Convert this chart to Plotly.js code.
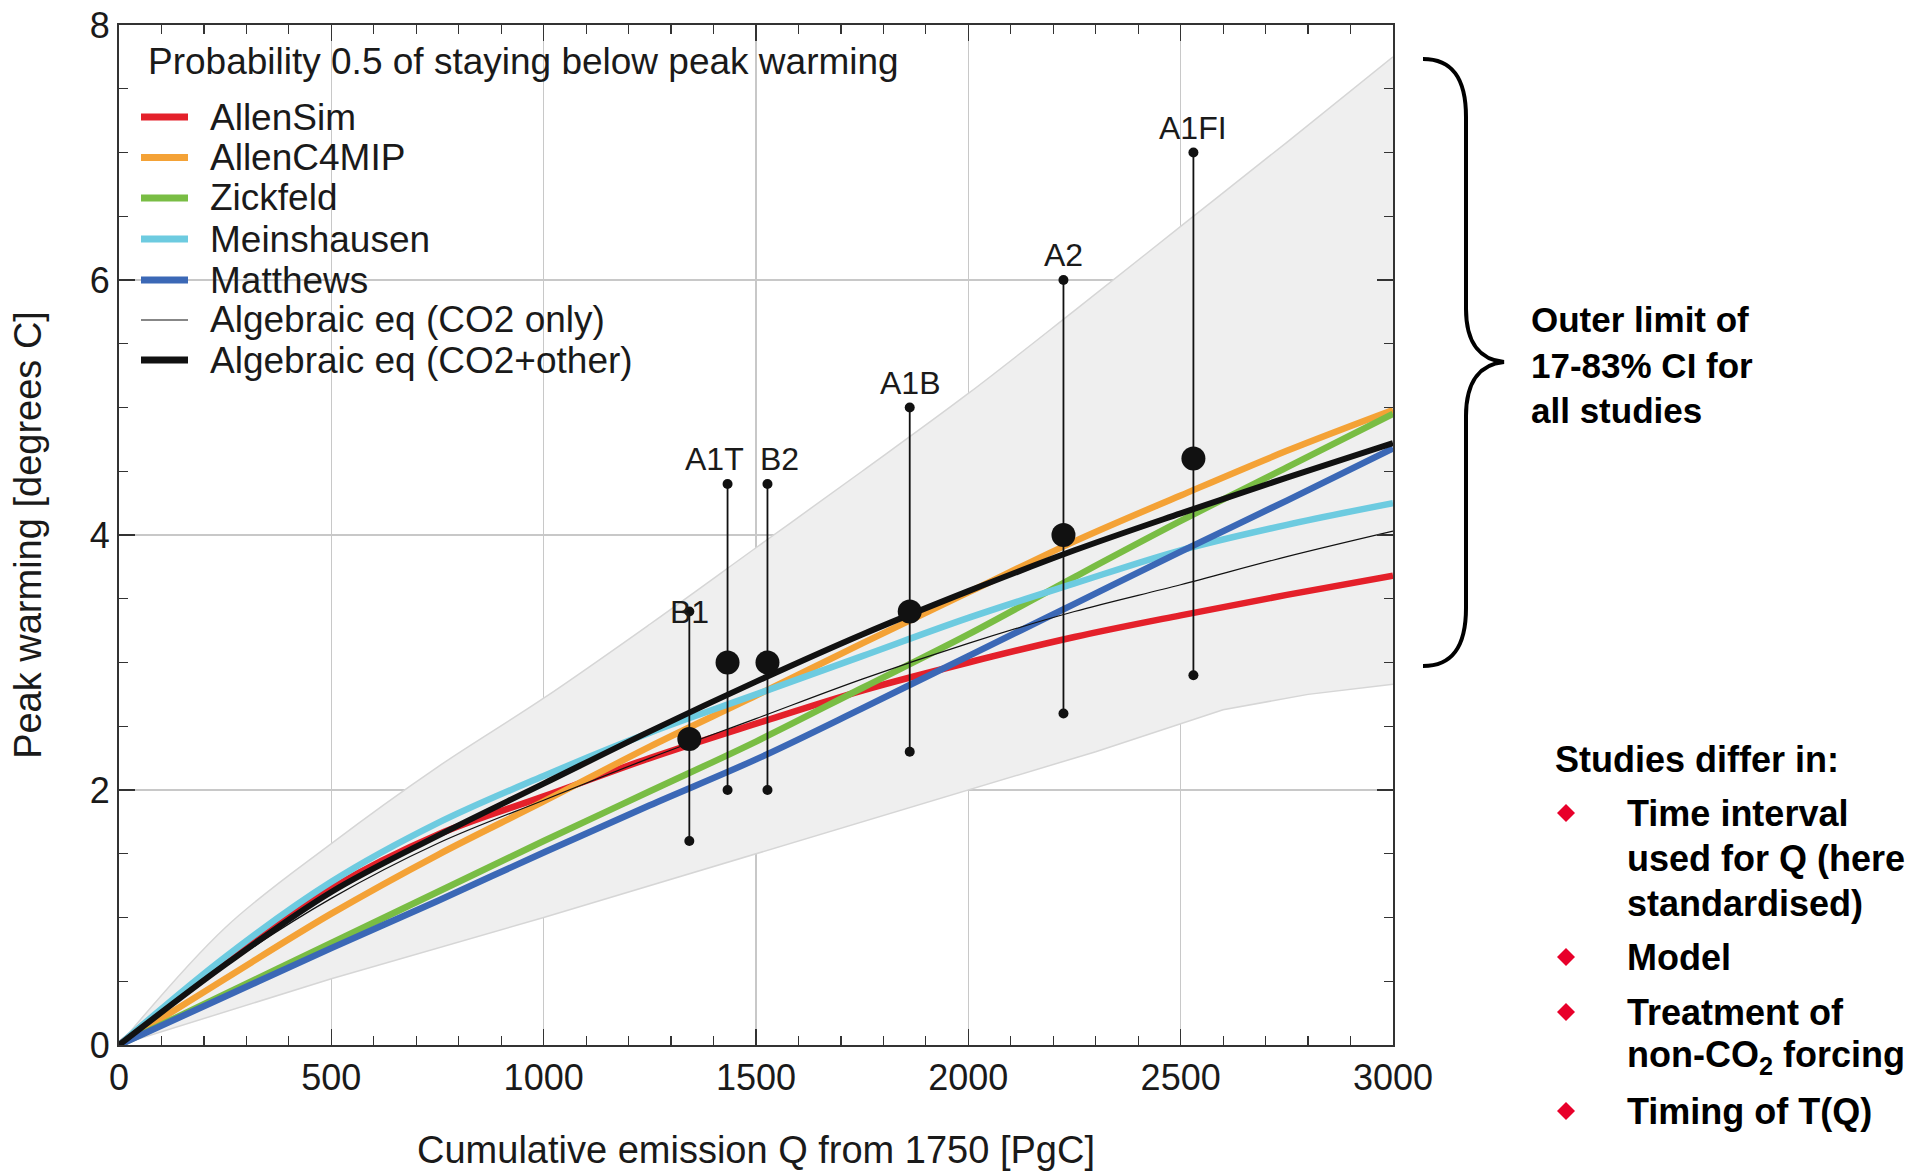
<!DOCTYPE html>
<html>
<head>
<meta charset="utf-8">
<script src="https://cdn.plot.ly/plotly-3.0.1.min.js"></script>
<style>
html,body{margin:0;padding:0;background:#fff;}
#chart{width:1923px;height:1171px;}
</style>
</head>
<body>
<div id="chart"></div>
<script>
// ---------------- DATA ----------------
const emission = [0, 250, 500, 750, 1000, 1250, 1500, 1750, 2000, 2250, 2500, 2750, 3000];
const allenSim    = [0, 0.66, 1.23, 1.65, 1.95, 2.25, 2.52, 2.78, 3.00, 3.20, 3.37, 3.53, 3.68];
const allenC4MIP  = [0, 0.52, 1.03, 1.49, 1.91, 2.34, 2.74, 3.15, 3.55, 3.95, 4.31, 4.66, 4.98];
const zickfeld    = [0, 0.40, 0.80, 1.20, 1.60, 1.99, 2.38, 2.80, 3.22, 3.67, 4.11, 4.53, 4.95];
const matthews    = [0, 0.38, 0.76, 1.13, 1.51, 1.88, 2.24, 2.64, 3.05, 3.46, 3.87, 4.27, 4.68];
const meinshausen = [0, 0.69, 1.28, 1.74, 2.11, 2.45, 2.75, 3.05, 3.35, 3.62, 3.88, 4.08, 4.25];
const algCO2Only  = [0, 0.62, 1.15, 1.58, 1.92, 2.25, 2.56, 2.87, 3.15, 3.40, 3.61, 3.83, 4.03];
const algCO2Other = [0, 0.63, 1.20, 1.64, 2.05, 2.46, 2.85, 3.22, 3.56, 3.88, 4.17, 4.45, 4.72];

// outer limit of 17-83% CI for all studies
const ciUpperQ = [0, 250, 500, 750, 1000, 1250, 1500, 1750, 2000, 2250, 2500, 2750, 3000];
const ciUpper  = [0, 0.92, 1.58, 2.18, 2.72, 3.30, 3.90, 4.50, 5.11, 5.76, 6.42, 7.08, 7.75];
const ciLowerQ = [0, 500, 1000, 1500, 2000, 2300, 2600, 2800, 3000];
const ciLower  = [0, 0.52, 1.00, 1.50, 2.00, 2.30, 2.63, 2.75, 2.83];

// SRES scenarios
const scenNames = ["B1", "A1T", "B2", "A1B", "A2", "A1FI"];
const scenQ     = [1343, 1433, 1527, 1862, 2224, 2530];
const scenMid   = [2.4, 3.0, 3.0, 3.4, 4.0, 4.6];
const scenLow   = [1.6, 2.0, 2.0, 2.3, 2.6, 2.9];
const scenHigh  = [3.4, 4.4, 4.4, 5.0, 6.0, 7.0];

const seriesNames = ["AllenSim", "AllenC4MIP", "Zickfeld", "Meinshausen", "Matthews",
                     "Algebraic eq (CO2 only)", "Algebraic eq (CO2+other)"];
const legendTitle = "Probability 0.5 of staying below peak warming";
const xTickVals = [0, 500, 1000, 1500, 2000, 2500, 3000];
const yTickVals = [0, 2, 4, 6, 8];
const xTitle = "Cumulative emission Q from 1750 [PgC]";
const yTitle = "Peak warming [degrees C]";
const braceText = "Outer limit of<br>17-83% CI for<br>all studies";
const differHeader = "Studies differ in:";
const differItems = [
  ["Time interval", "used for Q (here", "standardised)"],
  ["Model"],
  ["Treatment of", "non-CO<sub>2</sub> forcing"],
  ["Timing of T(Q)"]
];

// ---------------- STYLE ----------------
const FONT = "Liberation Sans, Arial, Helvetica, sans-serif";
const TXT = "#1a1a1a";
const seriesData = [allenSim, allenC4MIP, zickfeld, meinshausen, matthews, algCO2Only, algCO2Other];
const seriesColors = ["#e4202a", "#f4a236", "#79bd44", "#6dcbe0", "#3b68b6", "#111111", "#111111"];
const seriesWidths = [6.5, 6.5, 6.5, 6.5, 6.5, 1.2, 6];

// plot area in pixels
const P = {L: 119, T: 25, W: 1274, H: 1020};
const pxX = X => (X - P.L) / P.W;
const pxY = Y => (P.T + P.H - Y) / P.H;

// ---------------- TRACES ----------------
const traces = [];
traces.push({
  type: "scatter", mode: "lines", x: ciLowerQ, y: ciLower,
  line: {color: "#d6d6d6", width: 1.5},
  showlegend: false, hoverinfo: "skip"
});
traces.push({
  type: "scatter", mode: "lines", x: ciUpperQ, y: ciUpper,
  fill: "tonexty", fillcolor: "#efefef",
  line: {color: "#d6d6d6", width: 1.5, shape: "spline", smoothing: 1},
  showlegend: false, hoverinfo: "skip"
});
seriesNames.forEach((nm, i) => {
  traces.push({
    type: "scatter", mode: "lines", name: nm,
    x: emission, y: seriesData[i],
    line: {color: seriesColors[i], width: seriesWidths[i], shape: "spline", smoothing: 1},
    showlegend: false
  });
});
// whiskers
const wx = [], wy = [];
scenQ.forEach((q, i) => { wx.push(q, q, null); wy.push(scenLow[i], scenHigh[i], null); });
traces.push({type: "scatter", mode: "lines", x: wx, y: wy,
  line: {color: "#111", width: 1.8}, showlegend: false, hoverinfo: "skip"});
traces.push({type: "scatter", mode: "markers",
  x: scenQ.concat(scenQ), y: scenLow.concat(scenHigh),
  marker: {color: "#111", size: 10}, showlegend: false});
traces.push({type: "scatter", mode: "markers", x: scenQ, y: scenMid,
  marker: {color: "#111", size: 24}, showlegend: false});

// ---------------- ANNOTATIONS / SHAPES ----------------
const annotations = [];
const shapes = [];

// scenario labels
const labelShift = {B1: [0, 0], A1T: [-13, 25], B2: [12, 25]};
scenNames.forEach((nm, i) => {
  const s = labelShift[nm] || [0, 25];
  annotations.push({x: scenQ[i], y: scenHigh[i], xref: "x", yref: "y", text: nm,
    showarrow: false, xanchor: "center", yanchor: "middle",
    xshift: s[0], yshift: s[1], font: {family: FONT, size: 32, color: TXT}});
});

// legend (manual)
annotations.push({x: pxX(146), y: pxY(62), xref: "paper", yref: "paper", text: legendTitle,
  showarrow: false, xanchor: "left", yanchor: "middle", font: {family: FONT, size: 37, color: TXT}});
const legY = [117, 157.5, 198, 239, 280, 320, 360];
seriesNames.forEach((nm, i) => {
  shapes.push({type: "line", xref: "paper", yref: "paper",
    x0: pxX(141), x1: pxX(188), y0: pxY(legY[i]), y1: pxY(legY[i]),
    line: {color: seriesColors[i], width: i === 5 ? 1.2 : 7}});
  annotations.push({x: pxX(208), y: pxY(legY[i]), xref: "paper", yref: "paper", text: nm,
    showarrow: false, xanchor: "left", yanchor: "middle", font: {family: FONT, size: 37, color: TXT}});
});

// brace
function bracePath() {
  const pts = [
    ["M", [1423, 59]],
    ["C", [1452, 59], [1466, 78], [1466, 117]],
    ["L", [1466, 309]],
    ["C", [1466, 345], [1482, 360], [1504, 362]],
    ["C", [1482, 364], [1466, 379], [1466, 416]],
    ["L", [1466, 608]],
    ["C", [1466, 647], [1452, 666], [1423, 666]]
  ];
  return pts.map(seg => seg[0] + " " + seg.slice(1).map(p => pxX(p[0]) + "," + pxY(p[1])).join(" ")).join(" ");
}
shapes.push({type: "path", xref: "paper", yref: "paper", path: bracePath(),
  line: {color: "#000", width: 4}});
annotations.push({x: pxX(1529), y: pxY(365), xref: "paper", yref: "paper", text: "<b>" + braceText + "</b>",
  showarrow: false, xanchor: "left", yanchor: "middle", align: "left",
  font: {family: FONT, size: 35, color: "#000"}});

// studies differ in
annotations.push({x: pxX(1553), y: pxY(759), xref: "paper", yref: "paper", text: "<b>" + differHeader + "</b>",
  showarrow: false, xanchor: "left", yanchor: "middle", font: {family: FONT, size: 36, color: "#000"}});
const itemFirstY = [813, 957, 1012, 1111];
const lineGap = 45;
differItems.forEach((lines, i) => {
  lines.forEach((ln, j) => {
    annotations.push({x: pxX(1625), y: pxY(itemFirstY[i] + j * lineGap), xref: "paper", yref: "paper",
      text: "<b>" + ln + "</b>", showarrow: false, xanchor: "left", yanchor: "middle",
      font: {family: FONT, size: 36, color: "#000"}});
  });
  const cx = 1566, cy = itemFirstY[i], r = 9;
  shapes.push({type: "path", xref: "paper", yref: "paper",
    path: "M " + pxX(cx) + "," + pxY(cy - r) + " L " + pxX(cx + r) + "," + pxY(cy) +
          " L " + pxX(cx) + "," + pxY(cy + r) + " L " + pxX(cx - r) + "," + pxY(cy) + " Z",
    fillcolor: "#e8002a", line: {width: 0}});
});

// ---------------- LAYOUT ----------------
const axisCommon = {
  showline: true, linecolor: "#333", linewidth: 2, mirror: "allticks",
  ticks: "inside", ticklen: 16, tickwidth: 1.5, tickcolor: "#333",
  showgrid: true, gridcolor: "#c8c8c8", gridwidth: 1.2, zeroline: false,
  tickfont: {family: FONT, size: 36, color: TXT}
};
const layout = {
  width: 1923, height: 1171,
  margin: {l: P.L, r: 1923 - P.L - P.W, t: P.T, b: 1171 - P.T - P.H, pad: 0},
  paper_bgcolor: "#fff", plot_bgcolor: "#fff",
  showlegend: false,
  xaxis: Object.assign({}, axisCommon, {
    range: [0, 3000], tickvals: xTickVals, ticktext: xTickVals.map(String),
    minor: {ticks: "inside", ticklen: 9, tickwidth: 1.2, tickcolor: "#333", dtick: 100, tick0: 0, showgrid: false},
    title: {text: xTitle, font: {family: FONT, size: 38, color: TXT}, standoff: 40}
  }),
  yaxis: Object.assign({}, axisCommon, {
    range: [0, 8], tickvals: yTickVals, ticktext: yTickVals.map(String),
    minor: {ticks: "inside", ticklen: 9, tickwidth: 1.2, tickcolor: "#333", dtick: 0.5, tick0: 0, showgrid: false},
    title: {text: yTitle, font: {family: FONT, size: 38, color: TXT}, standoff: 36}
  }),
  annotations: annotations,
  shapes: shapes
};

Plotly.newPlot("chart", traces, layout, {displayModeBar: false, staticPlot: true});
</script>
</body>
</html>
